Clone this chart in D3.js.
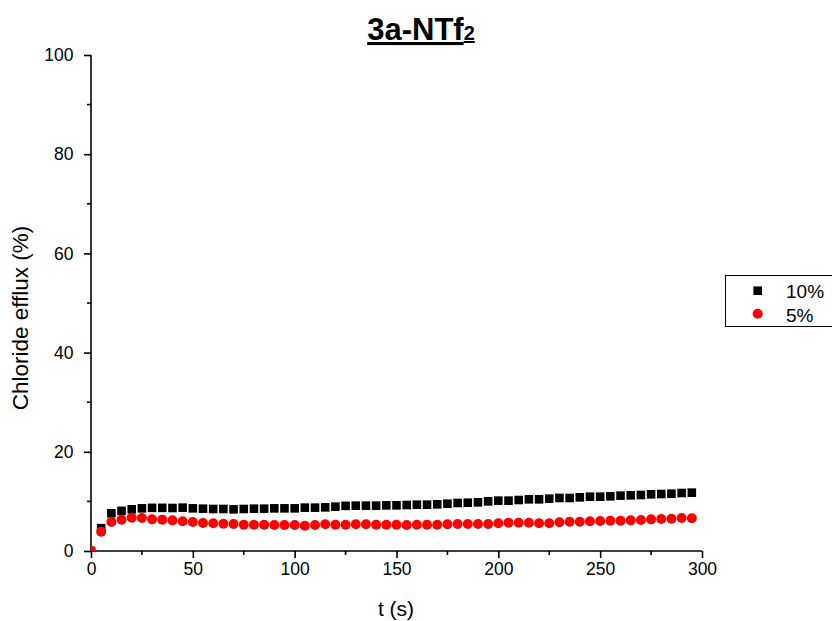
<!DOCTYPE html>
<html><head><meta charset="utf-8">
<script src="https://cdn.jsdelivr.net/npm/d3@7"></script>
<style>body{margin:0;background:#fff}svg{display:block}text{font-family:Arial,"Liberation Sans",sans-serif}</style>
</head><body>
<svg id="c" width="832" height="621"></svg>
<script>
const time = [0,5,10,15,20,25,30,35,40,45,50,55,60,65,70,75,80,85,90,95,100,105,110,115,120,125,130,135,140,145,
  150,155,160,165,170,175,180,185,190,195,200,205,210,215,220,225,230,235,240,245,250,255,260,265,270,275,280,285,290,295];
const series10 = [0,4.6,7.6,8.1,8.4,8.6,8.7,8.7,8.67,8.74,8.6,8.53,8.47,8.47,8.4,8.47,8.53,8.53,8.6,8.6,8.6,8.74,8.74,8.8,8.94,9.1,9.14,9.14,9.14,9.2,
  9.21,9.27,9.34,9.34,9.41,9.54,9.68,9.74,9.81,10.01,10.15,10.15,10.28,10.42,10.42,10.55,10.69,10.69,10.82,10.95,10.95,11.02,11.16,11.22,11.29,11.43,11.49,11.56,11.69,11.76];
const series5 = [0,3.9,5.85,6.32,6.72,6.65,6.38,6.32,6.18,5.98,5.85,5.65,5.58,5.51,5.44,5.31,5.31,5.31,5.24,5.24,5.24,5.11,5.24,5.38,5.31,5.31,5.38,5.38,5.31,5.31,
  5.31,5.24,5.31,5.31,5.31,5.38,5.44,5.44,5.44,5.44,5.58,5.71,5.71,5.71,5.58,5.58,5.78,5.91,5.91,5.98,6.05,6.11,6.11,6.18,6.25,6.38,6.45,6.52,6.65,6.59];
const xTicks = [0,50,100,150,200,250,300];
const yTicks = [0,20,40,60,80,100];
const legendLabels = ["10%","5%"];
const titleMain = "3a-NTf", titleSub = "2";
const xLabel = "t (s)", yLabel = "Chloride efflux (%)";

const svg = d3.select("#c");
const x = d3.scaleLinear().domain([0,300]).range([91,702]);
const y = d3.scaleLinear().domain([0,100]).range([551,55]);

svg.append("defs").append("clipPath").attr("id","clip")
  .append("rect").attr("x",91).attr("y",40).attr("width",640).attr("height",511);

const xAxis = d3.axisBottom(x).tickValues(xTicks).tickSize(7).tickPadding(5);
const yAxis = d3.axisLeft(y).tickValues(yTicks).tickSize(7).tickPadding(10.5);

const gx = svg.append("g").attr("transform","translate(0,551)").call(xAxis);
const gy = svg.append("g").attr("transform","translate(91,0)").call(yAxis);
// minor ticks
gx.selectAll(".minor").data(d3.range(25,300,50)).enter().append("line")
  .attr("x1",d=>x(d)).attr("x2",d=>x(d)).attr("y1",0).attr("y2",4).attr("stroke","#000").attr("stroke-width",1.6);
gy.selectAll(".minor").data(d3.range(10,100,20)).enter().append("line")
  .attr("y1",d=>y(d)).attr("y2",d=>y(d)).attr("x1",0).attr("x2",-4).attr("stroke","#000").attr("stroke-width",1.6);
[gx,gy].forEach(g=>{
  g.select(".domain").attr("stroke","#000").attr("stroke-width",1.6);
  g.selectAll(".tick line").attr("stroke","#000").attr("stroke-width",1.6);
  g.selectAll(".tick text").attr("font-size",17.5).attr("fill","#000").style("font-family","Arial, 'Liberation Sans', sans-serif");
});
gx.select(".domain").attr("d","M91,0H702");
gy.select(".domain").attr("d","M0,551V55");

const plot = svg.append("g").attr("clip-path","url(#clip)");
const s = 8.6;
plot.selectAll(".sq").data(time.map((t,i)=>[t,series10[i]])).enter().append("rect")
  .attr("x",d=>x(d[0])-s/2).attr("y",d=>y(d[1])-s/2).attr("width",s).attr("height",s).attr("fill","#000");
plot.selectAll(".ci").data(time.map((t,i)=>[t,series5[i]])).enter().append("circle")
  .attr("cx",d=>x(d[0])).attr("cy",d=>y(d[1])).attr("r",5).attr("fill","#ff0000");

// title
const title = svg.append("text").attr("x",421).attr("y",40).attr("text-anchor","middle")
  .attr("font-size",31).attr("font-weight","bold").attr("text-decoration","underline");
title.append("tspan").text(titleMain);
title.append("tspan").attr("font-size",20).text(titleSub);

svg.append("text").attr("x",396).attr("y",616).attr("text-anchor","middle").attr("font-size",21).text(xLabel);
svg.append("text").attr("transform","translate(28,318) rotate(-90)").attr("text-anchor","middle").attr("font-size",22.5).text(yLabel);

// legend
svg.append("rect").attr("x",725.5).attr("y",275.5).attr("width",120).attr("height",51).attr("fill","#fff").attr("stroke","#000").attr("stroke-width",1);
svg.append("rect").attr("x",757.7-4.3).attr("y",290.7-4.3).attr("width",8.6).attr("height",8.6).attr("fill","#000");
svg.append("circle").attr("cx",757.7).attr("cy",313.7).attr("r",5).attr("fill","#ff0000");
svg.append("text").attr("x",786).attr("y",298.3).attr("font-size",19).text(legendLabels[0]);
svg.append("text").attr("x",786).attr("y",321.5).attr("font-size",19).text(legendLabels[1]);
</script>
</body></html>
